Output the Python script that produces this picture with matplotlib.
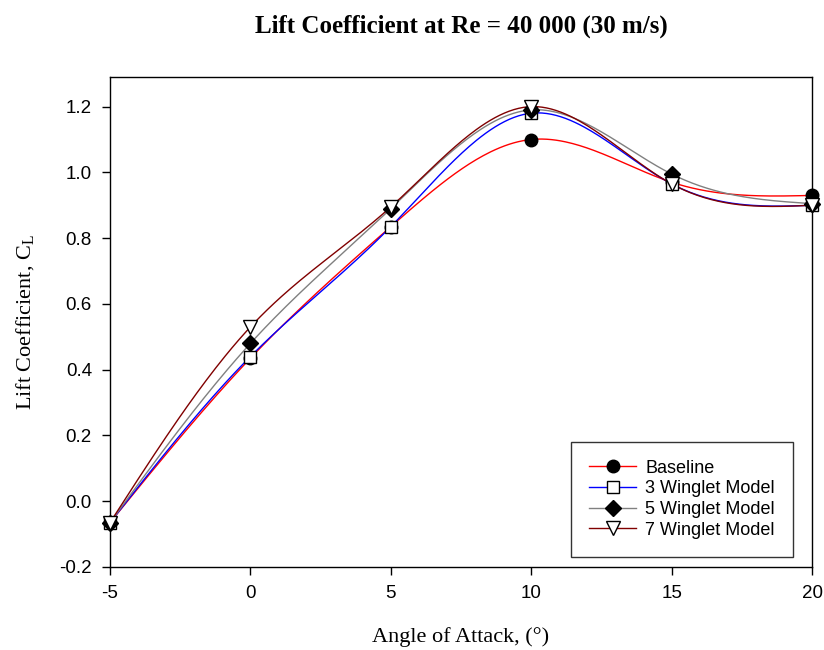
import numpy as np
import matplotlib
matplotlib.use('Agg')
import matplotlib.pyplot as plt

aoa = [-5, 0, 5, 10, 15, 20]
baseline = [-0.065, 0.435, 0.835, 1.100, 0.970, 0.930]
winglet3 = [-0.065, 0.440, 0.835, 1.180, 0.965, 0.900]
winglet5 = [-0.065, 0.480, 0.890, 1.190, 0.995, 0.905]
winglet7 = [-0.065, 0.530, 0.895, 1.200, 0.965, 0.900]

labels = ['Baseline', '3 Winglet Model', '5 Winglet Model', '7 Winglet Model']
colors = ['#ff0000', '#0000ff', '#808080', '#800000']
markers = ['o', 's', 'D', 'v']
faces = ['black', 'white', 'black', 'white']
sizes = [9, 9, 8, 10]

plt.rcParams['axes.unicode_minus'] = False


def spline(x, y, n=300):
    # natural cubic spline, just for drawing the smooth line
    x = np.asarray(x, float)
    y = np.asarray(y, float)
    k = len(x)
    h = np.diff(x)
    A = np.zeros((k, k))
    b = np.zeros(k)
    A[0, 0] = A[-1, -1] = 1
    for i in range(1, k - 1):
        A[i, i - 1] = h[i - 1]
        A[i, i] = 2 * (h[i - 1] + h[i])
        A[i, i + 1] = h[i]
        b[i] = 6 * ((y[i + 1] - y[i]) / h[i] - (y[i] - y[i - 1]) / h[i - 1])
    M = np.linalg.solve(A, b)
    xs = np.linspace(x[0], x[-1], n)
    idx = np.clip(np.searchsorted(x, xs) - 1, 0, k - 2)
    x0, x1 = x[idx], x[idx + 1]
    hh = x1 - x0
    ys = (M[idx] * (x1 - xs) ** 3 / (6 * hh) + M[idx + 1] * (xs - x0) ** 3 / (6 * hh)
          + (y[idx] / hh - M[idx] * hh / 6) * (x1 - xs)
          + (y[idx + 1] / hh - M[idx + 1] * hh / 6) * (xs - x0))
    return xs, ys


fig = plt.figure(figsize=(8.24, 6.5), dpi=100)
ax = fig.add_axes([0.1335, 0.1277, 0.852, 0.7538])

for i, series in enumerate([baseline, winglet3, winglet5, winglet7]):
    xs, ys = spline(aoa, series)
    ax.plot(xs, ys, color=colors[i], lw=1.0, zorder=2)
for i, series in enumerate([baseline, winglet3, winglet5, winglet7]):
    ax.plot(aoa, series, linestyle='none', marker=markers[i], ms=sizes[i],
            mfc=faces[i], mec='black', mew=1.0, zorder=3, clip_on=False)

handles = []
for i in range(4):
    h, = ax.plot([], [], color=colors[i], lw=1.0, marker=markers[i], ms=sizes[i],
                 mfc=faces[i], mec='black', mew=1.0, label=labels[i])
    handles.append(h)
leg = ax.legend(handles=handles, loc='lower right', bbox_to_anchor=(0.973, 0.021),
                prop={'family': 'Liberation Sans', 'size': 13}, frameon=True,
                fancybox=False, edgecolor='black', handlelength=2.6,
                borderpad=1.0, labelspacing=0.2, handletextpad=0.5,
                borderaxespad=0)
leg.get_frame().set_linewidth(1.0)

ax.set_xlim(-5, 20)
ax.set_ylim(-0.2, 1.29)
ax.set_xticks([-5, 0, 5, 10, 15, 20])
ax.set_yticks(np.arange(-0.2, 1.21, 0.2))
ax.set_yticklabels(['-0.2', '0.0', '0.2', '0.4', '0.6', '0.8', '1.0', '1.2'])
for lab in ax.get_xticklabels() + ax.get_yticklabels():
    lab.set_family('Liberation Sans')
    lab.set_fontsize(13.5)
ax.tick_params(direction='out', length=6, width=1, pad=7)
for s in ax.spines.values():
    s.set_linewidth(1.0)

ax.set_xlabel('Angle of Attack, (°)', family='Liberation Serif', fontsize=16, labelpad=18)
ax.set_ylabel('Lift Coefficient, C$_\\mathregular{L}$', family='Liberation Serif',
              fontsize=16, labelpad=16)
ax.set_title('Lift Coefficient at Re = 40 000 (30 m/s)', family='Liberation Serif',
             fontsize=18, fontweight='bold', pad=32)

plt.savefig('out.png', dpi=100)
